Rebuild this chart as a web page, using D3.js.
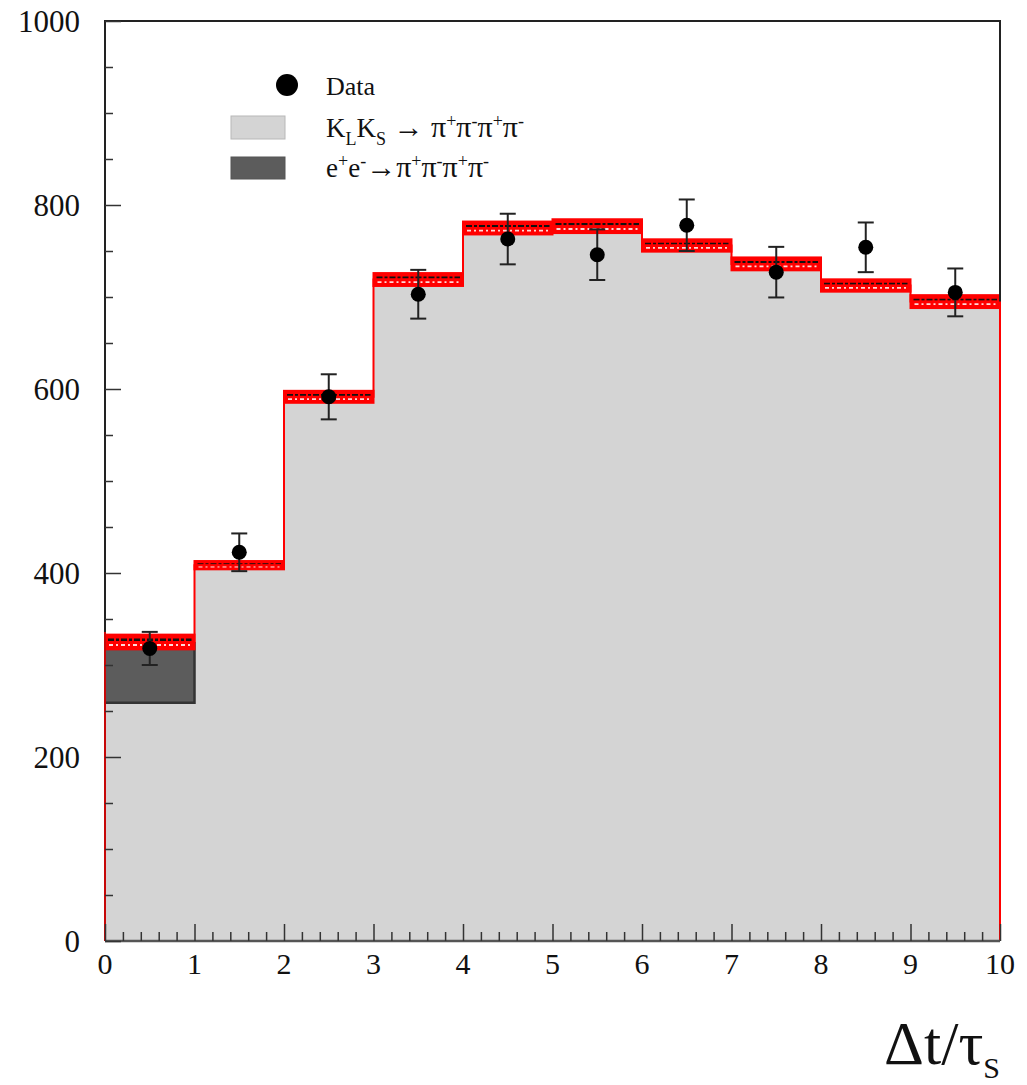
<!DOCTYPE html>
<html>
<head>
<meta charset="utf-8">
<script src="https://cdn.jsdelivr.net/npm/d3@7/dist/d3.min.js"></script>
<style>
  html, body { margin: 0; padding: 0; background: #fff; }
  svg, svg text { font-family: 'Liberation Serif', 'Times New Roman', Times, serif; }
</style>
</head>
<body>
<svg id="chart" width="1027" height="1085" font-family="Liberation Serif, Times New Roman, serif"></svg>
<script>
// ---- data ----
const binEdges = [0, 1, 2, 3, 4, 5, 6, 7, 8, 9, 10];
const binCenters = [0.5, 1.5, 2.5, 3.5, 4.5, 5.5, 6.5, 7.5, 8.5, 9.5];
const klksCounts = [259, 408.5, 591.5, 719, 775, 777, 756, 736, 712.5, 695];
const eeCounts = [66, 0, 0, 0, 0, 0, 0, 0, 0, 0];
const mcUncert = [8, 4.5, 6.5, 7, 7, 7.5, 6.7, 7, 6.7, 7];
const dataCounts = [318, 422.5, 591.5, 703, 763, 746, 778, 727, 754, 705];
const dataErrors = [18, 20.5, 24.5, 26.5, 27.5, 27.5, 28, 27.5, 27, 26];
const yTickValues = [0, 200, 400, 600, 800, 1000];
const xTickValues = [0, 1, 2, 3, 4, 5, 6, 7, 8, 9, 10];

(function () {
const totalCounts = klksCounts.map((v, i) => v + eeCounts[i]);
const FONT = "Liberation Serif, Times New Roman, serif";

// ---- layout ----
const pL = 105, pR = 1000, pT = 21, pB = 941;
const svg = d3.select("#chart");
const x = d3.scaleLinear().domain([0, 10]).range([pL, pR]);
const y = d3.scaleLinear().domain([0, 1000]).range([pB, pT]);

const LIGHT = "#d4d4d4", DARK = "#5c5c5c", RED = "#ff0000";

// light gray stacked area (total outline)
const stepPts = [];
totalCounts.forEach((v, i) => { stepPts.push([binEdges[i], v]); stepPts.push([binEdges[i + 1], v]); });
const area = d3.area().x(d => x(d[0])).y0(y(0)).y1(d => y(d[1]));
svg.append("path").datum(stepPts).attr("d", area).attr("fill", LIGHT);

// dark e+e- component stacked on top of KLKS
eeCounts.forEach((v, i) => {
  if (v <= 0) return;
  const x0 = x(binEdges[i]), x1 = x(binEdges[i + 1]);
  const yb = y(klksCounts[i]), yt = y(klksCounts[i] + v);
  svg.append("rect").attr("x", x0).attr("y", yt).attr("width", x1 - x0).attr("height", yb - yt)
    .attr("fill", DARK);
  svg.append("path").attr("d", `M${x0},${yb}H${x1}V${yt}`)
    .attr("fill", "none").attr("stroke", "#333").attr("stroke-width", 2.5);
});

// red uncertainty bands
const bands = svg.append("g");
totalCounts.forEach((v, i) => {
  const x0 = x(binEdges[i]), x1 = x(binEdges[i + 1]);
  const yt = y(v + mcUncert[i]), yb = y(v - mcUncert[i]);
  bands.append("rect").attr("x", x0).attr("y", yt).attr("width", x1 - x0).attr("height", yb - yt)
    .attr("fill", RED).attr("stroke", RED).attr("stroke-width", 2);
  const h = yb - yt;
  bands.append("line").attr("x1", x0 + 3).attr("x2", x1 - 3)
    .attr("y1", y(v) - h * 0.15).attr("y2", y(v) - h * 0.15)
    .attr("stroke", "#111").attr("stroke-width", Math.max(1.3, h * 0.16))
    .attr("stroke-dasharray", "6,2,3,2");
  bands.append("line").attr("x1", x0 + 4).attr("x2", x1 - 4)
    .attr("y1", y(v) + h * 0.2).attr("y2", y(v) + h * 0.2)
    .attr("stroke", "#fff").attr("stroke-opacity", 0.85).attr("stroke-width", Math.max(1, h * 0.14))
    .attr("stroke-dasharray", "4,3,2,3");
});

// red histogram outline
const line = d3.line().x(d => x(d[0])).y(d => y(d[1]));
const outline = [[0, 0]].concat(stepPts, [[10, 0]]);
svg.append("path").datum(outline).attr("d", line)
  .attr("fill", "none").attr("stroke", RED).attr("stroke-width", 2);

// data points with error bars
const pts = svg.append("g");
binCenters.forEach((c, i) => {
  const cx = x(c);
  const lo = y(dataCounts[i] - dataErrors[i]), hi = y(dataCounts[i] + dataErrors[i]);
  pts.append("line").attr("x1", cx).attr("x2", cx).attr("y1", lo).attr("y2", hi)
    .attr("stroke", "#222").attr("stroke-width", 2);
  [lo, hi].forEach(yy => pts.append("line").attr("x1", cx - 8).attr("x2", cx + 8)
    .attr("y1", yy).attr("y2", yy).attr("stroke", "#222").attr("stroke-width", 2));
  pts.append("circle").attr("cx", cx).attr("cy", y(dataCounts[i])).attr("r", 7.5).attr("fill", "#000");
});

// frame
svg.append("path").attr("d", `M${pL},${pB}V${pT}H${pR}V${y(totalCounts[9])}`)
  .attr("fill", "none").attr("stroke", "#222").attr("stroke-width", 2);
svg.append("line").attr("x1", pL).attr("x2", pR).attr("y1", pB).attr("y2", pB)
  .attr("stroke", "#555").attr("stroke-width", 2.5);
svg.append("line").attr("x1", pL).attr("x2", pL).attr("y1", y(totalCounts[0]) - 10).attr("y2", pB)
  .attr("stroke", RED).attr("stroke-width", 1.5);

// y axis ticks & labels
const yAxis = d3.axisRight(y).tickValues(d3.range(0, 1001, 50)).tickSize(0).tickFormat("");
const yg = svg.append("g").attr("transform", `translate(${pL},0)`).call(yAxis);
yg.select(".domain").remove();
yg.selectAll(".tick line").attr("x2", d => d % 200 === 0 ? 16 : 8).attr("stroke", "#333").attr("stroke-width", 1.5);
yTickValues.forEach(v => {
  svg.append("text").attr("x", 80).attr("y", y(v)).attr("dy", "0.35em")
    .attr("font-family", FONT)
    .attr("text-anchor", "end").attr("font-size", 31).attr("fill", "#111").text(v);
});

// x axis ticks & labels
const xAxis = d3.axisTop(x).tickValues(d3.range(0, 10.001, 0.2)).tickSize(0).tickFormat("");
const xg = svg.append("g").attr("transform", `translate(0,${pB})`).call(xAxis);
xg.select(".domain").remove();
xg.selectAll(".tick line").attr("y2", d => Math.abs(d - Math.round(d)) < 1e-6 ? -17 : -9)
  .attr("stroke", "#333").attr("stroke-width", 1.5);
xTickValues.forEach(v => {
  svg.append("text").attr("x", x(v)).attr("y", 974)
    .attr("font-family", FONT)
    .attr("text-anchor", "middle").attr("font-size", 30).attr("fill", "#111").text(v);
});

// x axis title
const xt = svg.append("text").attr("x", 1000).attr("y", 1064).attr("text-anchor", "end")
  .attr("font-family", FONT).attr("font-size", 62).attr("fill", "#111");
xt.append("tspan").text("\u0394t/\u03c4");
xt.append("tspan").attr("font-size", 30).attr("dy", 14).text("S");

// legend
const lg = svg.append("g").attr("font-family", FONT);
lg.append("circle").attr("cx", 287).attr("cy", 85).attr("r", 11).attr("fill", "#000");
lg.append("text").attr("x", 326).attr("y", 95).attr("font-size", 26).attr("fill", "#111").text("Data");
lg.append("rect").attr("x", 231).attr("y", 116).attr("width", 54).attr("height", 23)
  .attr("fill", LIGHT).attr("stroke", "#b8b8b8").attr("stroke-width", 1);
lg.append("rect").attr("x", 231).attr("y", 157).attr("width", 54).attr("height", 22)
  .attr("fill", DARK).attr("stroke", "#555").attr("stroke-width", 1);

const t1 = lg.append("text").attr("x", 326).attr("y", 137).attr("font-size", 27).attr("fill", "#111");
[["K", false, 0], ["L", true, 8], ["K", false, -8], ["S", true, 8], [" \u2192 ", false, -8],
 ["\u03c0", false, 0], ["+", true, -10], ["\u03c0", false, 10], ["-", true, -10], ["\u03c0", false, 10],
 ["+", true, -10], ["\u03c0", false, 10], ["-", true, -10]].forEach(p => {
  const s = t1.append("tspan").attr("dy", p[2]).text(p[0]);
  if (p[1]) s.attr("font-size", 18);
  else if (p[0] === " \u2192 ") s.attr("font-size", 30);
  else if (p[0] === "\u03c0") s.attr("font-size", 30);
});
const t2 = lg.append("text").attr("x", 326).attr("y", 177).attr("font-size", 27).attr("fill", "#111");
[["e", false, 0], ["+", true, -10], ["e", false, 10], ["-", true, -10], ["\u2192", false, 10],
 ["\u03c0", false, 0], ["+", true, -10], ["\u03c0", false, 10], ["-", true, -10], ["\u03c0", false, 10],
 ["+", true, -10], ["\u03c0", false, 10], ["-", true, -10]].forEach(p => {
  const s = t2.append("tspan").attr("dy", p[2]).text(p[0]);
  if (p[1]) s.attr("font-size", 18);
  else if (p[0] === "\u2192" || p[0] === "\u03c0") s.attr("font-size", 30);
});
})();
</script>
</body>
</html>
